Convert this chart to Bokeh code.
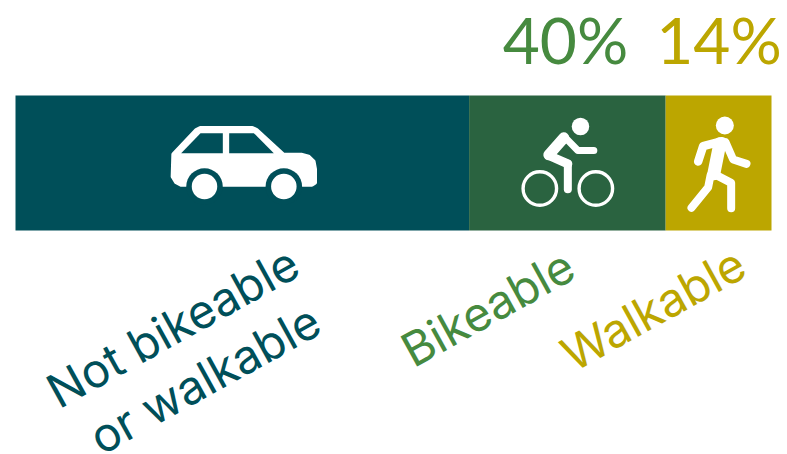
from bokeh.plotting import figure
from bokeh.models import Range1d, ColumnDataSource
from bokeh.core.properties import value
from bokeh.embed import file_html
from bokeh.resources import INLINE

# Share of trips by what they could be done with, in percent
categories = ["Not bikeable or walkable", "Bikeable", "Walkable"]
shares = [60, 26, 14]
bar_colors = ["#004f59", "#2a6340", "#bca600"]
label_colors = ["#004f59", "#468a3f", "#bca600"]

W, H = 787, 454
BAR_LEFT, BAR_RIGHT = 15, 771
PX_PER_PCT = (BAR_RIGHT - BAR_LEFT) / sum(shares)

p = figure(width=W, height=H, output_backend="svg", toolbar_location=None,
           x_range=Range1d(-BAR_LEFT / PX_PER_PCT, (W - BAR_LEFT) / PX_PER_PCT),
           y_range=Range1d(H, 0), min_border=0, outline_line_color=None,
           x_axis_type=None, y_axis_type=None)
p.grid.visible = False
p.background_fill_color = "white"
p.border_fill_color = "white"


def px(x):
    """Horizontal pixel position to percent along the bar."""
    return (x - BAR_LEFT) / PX_PER_PCT


# Stacked bar
lefts = [sum(shares[:i]) for i in range(len(shares))]
rights = [sum(shares[:i + 1]) for i in range(len(shares))]
p.quad(left=lefts, right=rights, top=95, bottom=230, fill_color=bar_colors, line_color=None)


def zoomed(points, ox, oy):
    """Icon outlines are drawn on a 3x grid anchored at (ox, oy)."""
    return [px(ox + a / 3) for a, _ in points], [oy + b / 3 for _, b in points]


def shape(points, ox, oy, color, width=0.0):
    xs, ys = zoomed(points, ox, oy)
    p.patch(xs, ys, fill_color=color, line_color=color, line_width=width, line_join="round")


def stroke(points, ox, oy, width):
    xs, ys = zoomed(points, ox, oy)
    p.line(xs, ys, line_color="white", line_width=width, line_cap="round", line_join="round")


def dot(a, b, ox, oy, diameter, fill="white", line=None, line_width=0):
    xs, ys = zoomed([(a, b)], ox, oy)
    p.scatter(xs, ys, size=diameter, marker="circle", fill_color=fill,
              line_color=line, line_width=line_width)


# Car
CX, CY = 150, 110
body = [(70, 132), (138, 60), (150, 54), (305, 54), (318, 60), (398, 134), (452, 134),
        (474, 140), (488, 154), (492, 176), (492, 216), (484, 221), (92, 221), (78, 214), (68, 198)]
shape(body, CX, CY, "white", 5)
dot(162, 228, CX, CY, 36.5, fill=bar_colors[0])
dot(400, 228, CX, CY, 36.5, fill=bar_colors[0])
dot(162, 228, CX, CY, 25.5)
dot(400, 228, CX, CY, 25.5)
shape([(92, 128), (150, 68), (217, 68), (217, 128)], CX, CY, bar_colors[0])
shape([(236, 68), (310, 68), (370, 128), (236, 128)], CX, CY, bar_colors[0])

# Cyclist
BX, BY = 500, 100
dot(240, 78, BX, BY, 17.5)
dot(118, 264, BX, BY, 33.5, fill=None, line="white", line_width=3.4)
dot(286, 264, BX, BY, 33.5, fill=None, line="white", line_width=3.4)
stroke([(280, 150), (232, 150), (195, 112)], BX, BY, 7)
stroke([(145, 163), (190, 112)], BX, BY, 11)
stroke([(145, 165), (202, 190)], BX, BY, 9)
stroke([(202, 190), (202, 266)], BX, BY, 8)

# Pedestrian
WX, WY = 660, 95
dot(193, 90, WX, WY, 18)
stroke([(113, 198), (128, 152), (185, 137)], WX, WY, 8.5)
stroke([(195, 140), (218, 192), (258, 205)], WX, WY, 8)
stroke([(178, 145), (160, 235)], WX, WY, 13)
stroke([(160, 235), (212, 262), (212, 338)], WX, WY, 8)
stroke([(150, 240), (143, 275), (93, 337)], WX, WY, 8)

# Value labels: the bikeable figure includes the walkable part of the bar
value_text = [f"{shares[1] + shares[2]}%", f"{shares[2]}%"]
p.text(x=[px(565), px(718.5)], y=[38.5, 38.5], text=value_text,
       text_color=[label_colors[1], label_colors[2]],
       text_font=value("Lato"), text_font_size="64px",
       text_align="center", text_baseline="middle")

# Slanted category labels
names = ColumnDataSource(dict(
    x=[px(172), px(204), px(487), px(652.5)],
    y=[326, 378, 307, 308],
    text=["Not bikeable", "or walkable", categories[1], categories[2]],
    color=[label_colors[0], label_colors[0], label_colors[1], label_colors[2]],
))
p.text(x="x", y="y", text="text", text_color="color", source=names, angle=29,
       angle_units="deg", text_font=value("Inter"), text_font_size="47px",
       text_align="center", text_baseline="middle")

open("out.html", "w").write(file_html(p, INLINE))
